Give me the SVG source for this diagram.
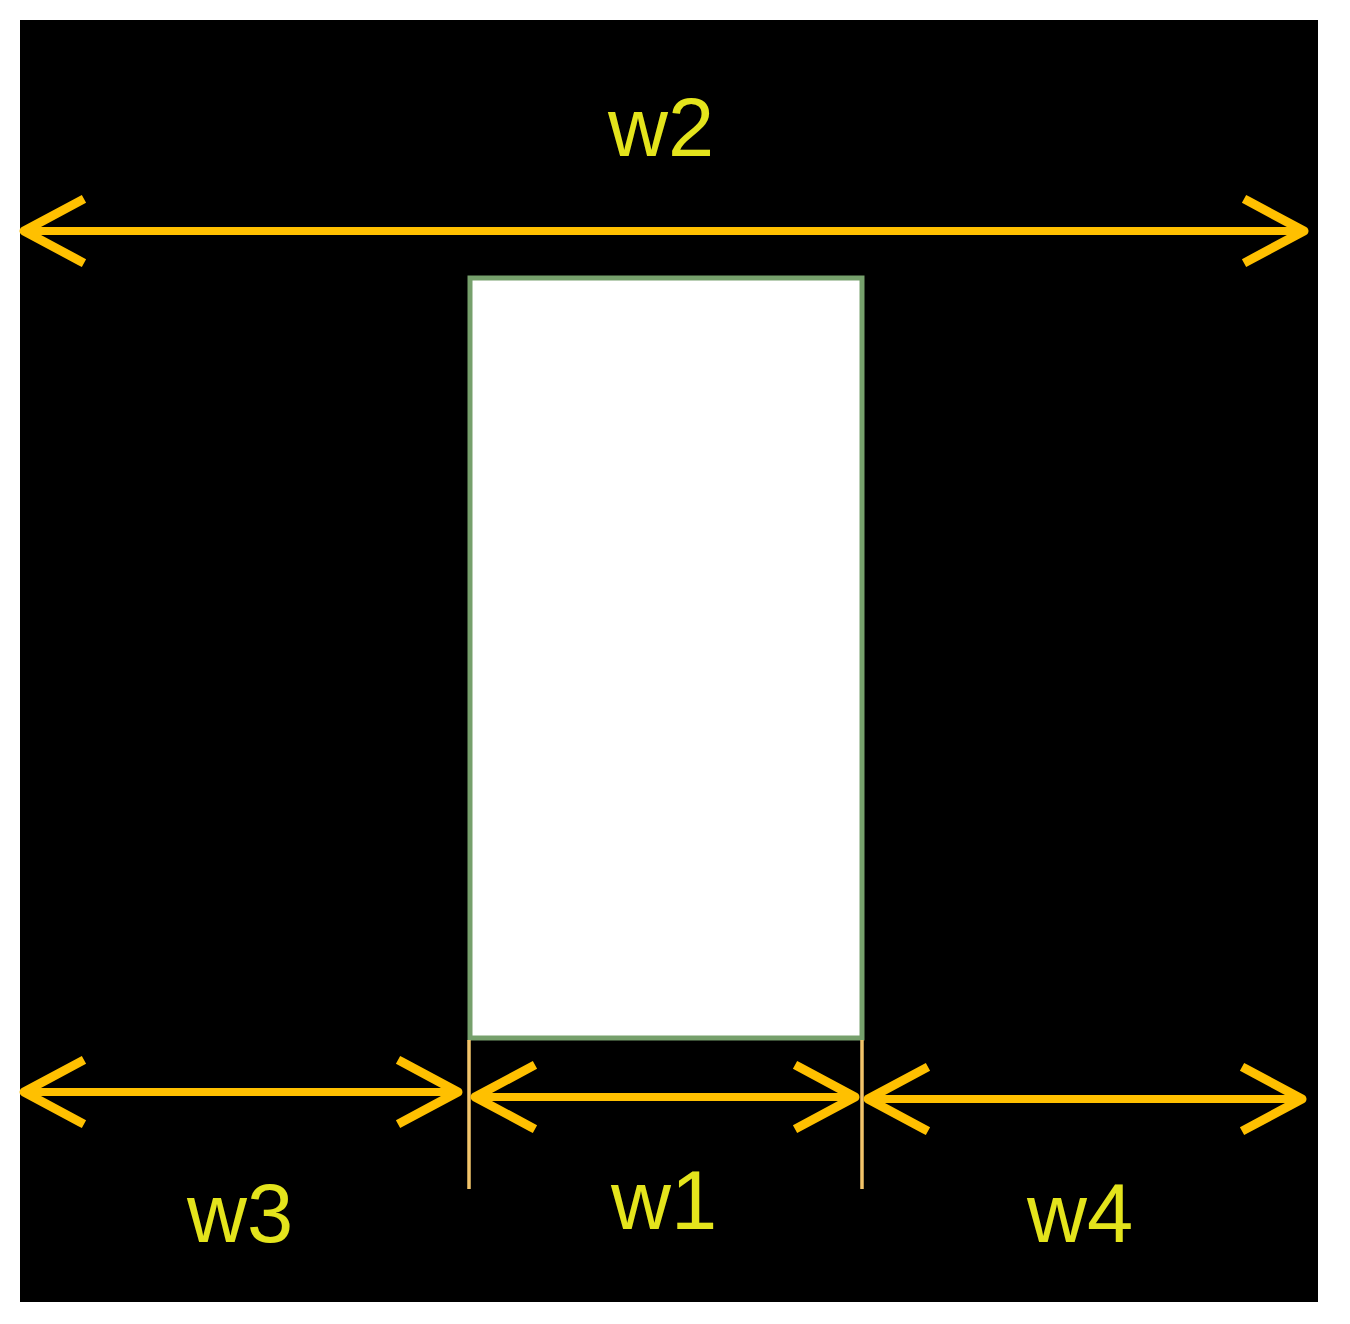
<svg xmlns="http://www.w3.org/2000/svg" width="1350" height="1324" viewBox="0 0 1350 1324">
<defs>
<style>
.dim{stroke:#ffc000;stroke-width:8;fill:none}
.tick{stroke:#f2c46a;stroke-width:3.5;fill:none}
.lbl{font-family:"Liberation Sans",Arial,sans-serif;font-size:83px;fill:#e4e41c;text-anchor:middle}
</style>
<marker id="chev" markerUnits="userSpaceOnUse" viewBox="-66 -38 74 76" markerWidth="74" markerHeight="76" refX="0" refY="0" orient="auto-start-reverse">
<path d="M-56,-30 L0,0 L-56,30" fill="none" stroke="#ffc000" stroke-width="9" stroke-linejoin="round" stroke-linecap="square"/>
</marker>
</defs>
<rect x="0" y="0" width="1350" height="1324" fill="#ffffff"/>
<rect id="background" x="20" y="20" width="1298" height="1282" fill="#000000"/>
<g id="block">
<rect x="470" y="278" width="392" height="760" fill="#ffffff" stroke="#76a06c" stroke-width="5"/>
</g>
<g id="connectors">
<line class="tick" x1="469" y1="1040" x2="469" y2="1189"/>
<line class="tick" x1="862" y1="1040" x2="862" y2="1189"/>
<line class="dim" x1="24" y1="231" x2="1304" y2="231" marker-start="url(#chev)" marker-end="url(#chev)"/>
<line class="dim" x1="24" y1="1092" x2="458" y2="1092" marker-start="url(#chev)" marker-end="url(#chev)"/>
<line class="dim" x1="475" y1="1097" x2="855" y2="1097" marker-start="url(#chev)" marker-end="url(#chev)"/>
<line class="dim" x1="868" y1="1099" x2="1302" y2="1099" marker-start="url(#chev)" marker-end="url(#chev)"/>
</g>
<g id="labels">
<text id="w2" class="lbl" x="661" y="156">w2</text>
<text id="w3" class="lbl" x="240" y="1242">w3</text>
<text id="w1" class="lbl" x="664" y="1229">w1</text>
<text id="w4" class="lbl" x="1080" y="1242">w4</text>
</g>
</svg>
